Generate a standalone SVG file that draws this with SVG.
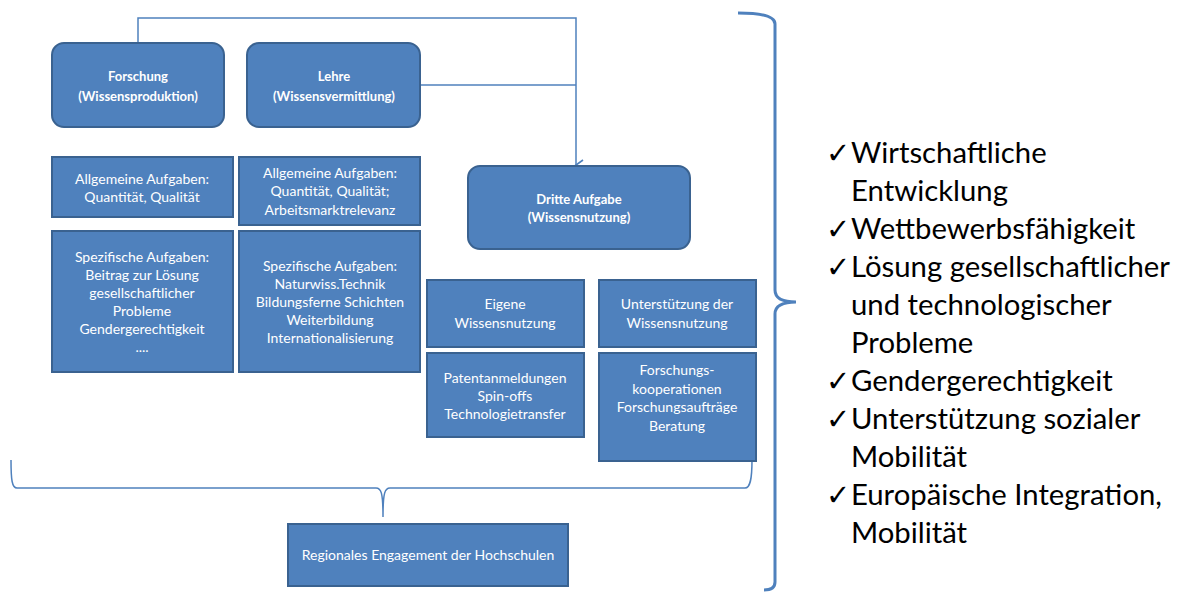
<svg xmlns="http://www.w3.org/2000/svg" width="1177" height="596" viewBox="0 0 1177 596">
<defs>
<style>
.box{fill:#4F81BD;stroke:#3A6290;stroke-width:2}
.t{font-family:Lato,"Open Sans","Liberation Sans",sans-serif;font-size:14px;fill:#fff;text-anchor:middle}
.b{font-weight:bold;font-size:13px}
.con{fill:none;stroke:#4F81BD;stroke-width:1.5}
.br{fill:none;stroke:#4F81BD;stroke-width:3}
.r{font-family:Lato,"Open Sans","Liberation Sans",sans-serif;font-size:29.3px;fill:#000}
.ck{font-family:"DejaVu Sans",sans-serif;font-size:29px}
</style>
<marker id="arr" markerWidth="12" markerHeight="12" refX="6" refY="10" orient="auto" markerUnits="userSpaceOnUse" viewBox="0 0 12 12">
<path d="M1,3 L6,10 L11,3" fill="none" stroke="#4F81BD" stroke-width="1.6"/>
</marker>
</defs>
<rect width="1177" height="596" fill="#fff"/>
<g id="connectors">
<path class="con" d="M138,43 V18 H576 V165" marker-end="url(#arr)"/>
<path class="con" d="M420,85 H576"/>
<path class="con" d="M11,460 C11,480 12,488 17,488 H376 C381,488 383,492 383,517 C383,492 385,488 390,488 H745 C750,488 752,480 752,460"/>
<path class="br" d="M738,13 C760,13 775,16 775,24 V290 C775,297 780,302 796,302 C780,302 775,307 775,314 V582 C775,588 770,590 764,590"/>
</g>
<g id="forschung"><rect class="box" x="52" y="43" width="172" height="84" rx="12"/>
<text class="t b" x="138" y="81">Forschung</text><text class="t b" x="138" y="101">(Wissensproduktion)</text></g>
<g id="lehre"><rect class="box" x="247" y="43" width="173" height="84" rx="12"/>
<text class="t b" x="334" y="81">Lehre</text><text class="t b" x="334" y="101">(Wissensvermittlung)</text></g>
<g id="allg1"><rect class="box" x="52" y="157" width="181" height="60"/>
<text class="t" x="142" y="184">Allgemeine Aufgaben:</text><text class="t" x="142" y="202">Quantität, Qualität</text></g>
<g id="allg2"><rect class="box" x="239" y="157" width="181" height="68"/>
<text class="t" x="330" y="178">Allgemeine Aufgaben:</text><text class="t" x="330" y="196">Quantität, Qualität;</text><text class="t" x="330" y="215">Arbeitsmarktrelevanz</text></g>
<g id="spez1"><rect class="box" x="52" y="231" width="181" height="141"/>
<text class="t" x="142" y="262">Spezifische Aufgaben:</text><text class="t" x="142" y="280">Beitrag zur Lösung</text><text class="t" x="142" y="298">gesellschaftlicher</text><text class="t" x="142" y="316">Probleme</text><text class="t" x="142" y="334">Gendergerechtigkeit</text><text class="t" x="142" y="352">....</text></g>
<g id="spez2"><rect class="box" x="239" y="231" width="181" height="141"/>
<text class="t" x="330" y="271">Spezifische Aufgaben:</text><text class="t" x="330" y="289">Naturwiss.Technik</text><text class="t" x="330" y="307">Bildungsferne Schichten</text><text class="t" x="330" y="325">Weiterbildung</text><text class="t" x="330" y="343">Internationalisierung</text></g>
<g id="dritte"><rect class="box" x="468" y="166" width="222" height="83" rx="12"/>
<text class="t b" x="579" y="204">Dritte Aufgabe</text><text class="t b" x="579" y="222">(Wissensnutzung)</text></g>
<g id="eigene"><rect class="box" x="427" y="280" width="157" height="67"/>
<text class="t" x="505" y="309">Eigene</text><text class="t" x="505" y="328">Wissensnutzung</text></g>
<g id="unterst"><rect class="box" x="599" y="280" width="157" height="67"/>
<text class="t" x="677" y="309">Unterstützung der</text><text class="t" x="677" y="328">Wissensnutzung</text></g>
<g id="patent"><rect class="box" x="427" y="353" width="157" height="84"/>
<text class="t" x="505" y="383">Patentanmeldungen</text><text class="t" x="505" y="401">Spin-offs</text><text class="t" x="505" y="419">Technologietransfer</text></g>
<g id="koop"><rect class="box" x="599" y="353" width="157" height="108"/>
<text class="t" x="677" y="375">Forschungs-</text><text class="t" x="677" y="394">kooperationen</text><text class="t" x="677" y="412">Forschungsaufträge</text><text class="t" x="677" y="431">Beratung</text></g>
<g id="regional"><rect class="box" x="288" y="524" width="280" height="62"/>
<text class="t" x="428" y="560">Regionales Engagement der Hochschulen</text></g>
<g id="liste">
<text class="ck" x="826" y="163">✓</text><text class="r" x="851" y="163">Wirtschaftliche</text>
<text class="r" x="851" y="201">Entwicklung</text>
<text class="ck" x="826" y="239">✓</text><text class="r" x="851" y="239">Wettbewerbsfähigkeit</text>
<text class="ck" x="826" y="277">✓</text><text class="r" x="851" y="277">Lösung gesellschaftlicher</text>
<text class="r" x="851" y="315">und technologischer</text>
<text class="r" x="851" y="353">Probleme</text>
<text class="ck" x="826" y="391">✓</text><text class="r" x="851" y="391">Gendergerechtigkeit</text>
<text class="ck" x="826" y="429">✓</text><text class="r" x="851" y="429">Unterstützung sozialer</text>
<text class="r" x="851" y="467">Mobilität</text>
<text class="ck" x="826" y="505">✓</text><text class="r" x="851" y="505">Europäische Integration,</text>
<text class="r" x="851" y="543">Mobilität</text>
</g>
</svg>
